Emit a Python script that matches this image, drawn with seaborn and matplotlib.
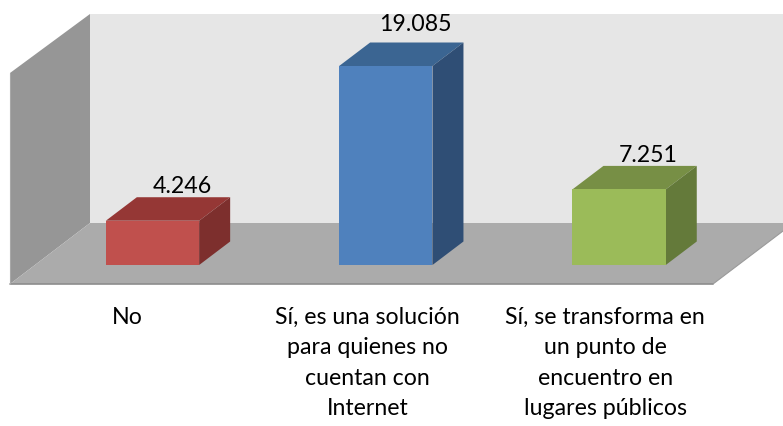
import numpy as np
import pandas as pd
import matplotlib
matplotlib.use("Agg")
import matplotlib.pyplot as plt
from matplotlib.patches import Polygon
import seaborn as sns

# ---- data ----
categories = ["No",
              "Sí, es una solución\npara quienes no\ncuentan con\nInternet",
              "Sí, se transforma en\nun punto de\nencuentro en\nlugares públicos"]
values = [4246, 19085, 7251]
value_labels = ["4.246", "19.085", "7.251"]
front_colors = ["#C0504D", "#4F81BD", "#9BBB59"]
top_colors = ["#953735", "#3B6592", "#778F45"]
side_colors = ["#7D2F2D", "#2F4E75", "#647A3A"]

# ---- layout (pixels of the 783x427 canvas) ----
W, H = 783, 427
PX_PER_CAT = 233.3
PX_PER_UNIT = 199 / 19085
X0_PX, BASE_PX = 152.5, 266
AX_L, AX_R, AX_T, AX_B = 10, 783, 0, 286

def X(px):
    return (px - X0_PX) / PX_PER_CAT
def Y(py):
    return (BASE_PX - py) / PX_PER_UNIT

sns.set_theme(style="white")
plt.rcParams["font.family"] = ["Lato", "DejaVu Sans"]

fig = plt.figure(figsize=(W / 100, H / 100), dpi=100, facecolor="white")
ax = fig.add_axes([AX_L / W, 1 - AX_B / H, (AX_R - AX_L) / W, (AX_B - AX_T) / H])

df = pd.DataFrame({"cat": categories, "val": values})
sns.barplot(data=df, x="cat", y="val", hue="cat", palette=front_colors,
            width=0.4, legend=False, dodge=False, saturation=1, ax=ax, zorder=3,
            linewidth=0, edgecolor="none")

ax.set_xlim(X(AX_L), X(AX_R))
ax.set_ylim(Y(AX_B), Y(AX_T))
ax.set_facecolor("none")
for s in ax.spines.values():
    s.set_visible(False)
ax.set_xlabel("")
ax.set_ylabel("")
ax.set_yticks([])

def poly(pts, color, z, **kw):
    ax.add_patch(Polygon([(X(a), Y(b)) for a, b in pts], closed=True, facecolor=color,
                         edgecolor="none", zorder=z, clip_on=False, **kw))

# box walls
poly([(90, 15), (783, 15), (783, 224), (90, 224)], "#E6E6E6", 0.5)
poly([(10, 74), (90, 15), (90, 224), (10, 285)], "#969696", 0.6)
poly([(10, 285), (90, 224), (783, 224), (783, 232), (713, 285)], "#ABABAB", 0.6)
ax.plot([X(10), X(713)], [Y(285)] * 2, color="#8C8C8C", lw=1.2, zorder=0.7, clip_on=False)
ax.plot([X(713), X(783)], [Y(285), Y(232)], color="#9A9A9A", lw=0.8, zorder=0.7, clip_on=False)
ax.plot([X(10), X(10)], [Y(74), Y(285)], color="#A8A8A8", lw=0.8, zorder=0.7, clip_on=False)

# depth faces computed from every bar
DX, DY = 31 / PX_PER_CAT, 23.5 / PX_PER_UNIT
label_gap = [5, 13, 5]
label_dx_px = -1.5
half = 0.2
for i, v in enumerate(values):
    l, r = i - half, i + half
    ax.add_patch(Polygon([(l, v), (r, v), (r + DX, v + DY), (l + DX, v + DY)], closed=True,
                         facecolor=top_colors[i], edgecolor="none", zorder=2.5))
    ax.add_patch(Polygon([(r, 0), (r + DX, DY), (r + DX, v + DY), (r, v)], closed=True,
                         facecolor=side_colors[i], edgecolor="none", zorder=2.6))
    ax.text(i + DX + label_dx_px / PX_PER_CAT, v + DY + label_gap[i] / PX_PER_UNIT, value_labels[i],
            ha="center", va="baseline", fontsize=16.7, color="black", zorder=5)

# category labels sit left of their bars in the reference
label_shift_px = [-25.5, -18.5, -14]
ax.set_xticks([i + s / PX_PER_CAT for i, s in enumerate(label_shift_px)])
ax.set_xticklabels(categories, fontsize=16.7, color="black", linespacing=1.55)
ax.tick_params(axis="x", length=0, pad=15)

fig.savefig("out.png", dpi=100, facecolor="white")
